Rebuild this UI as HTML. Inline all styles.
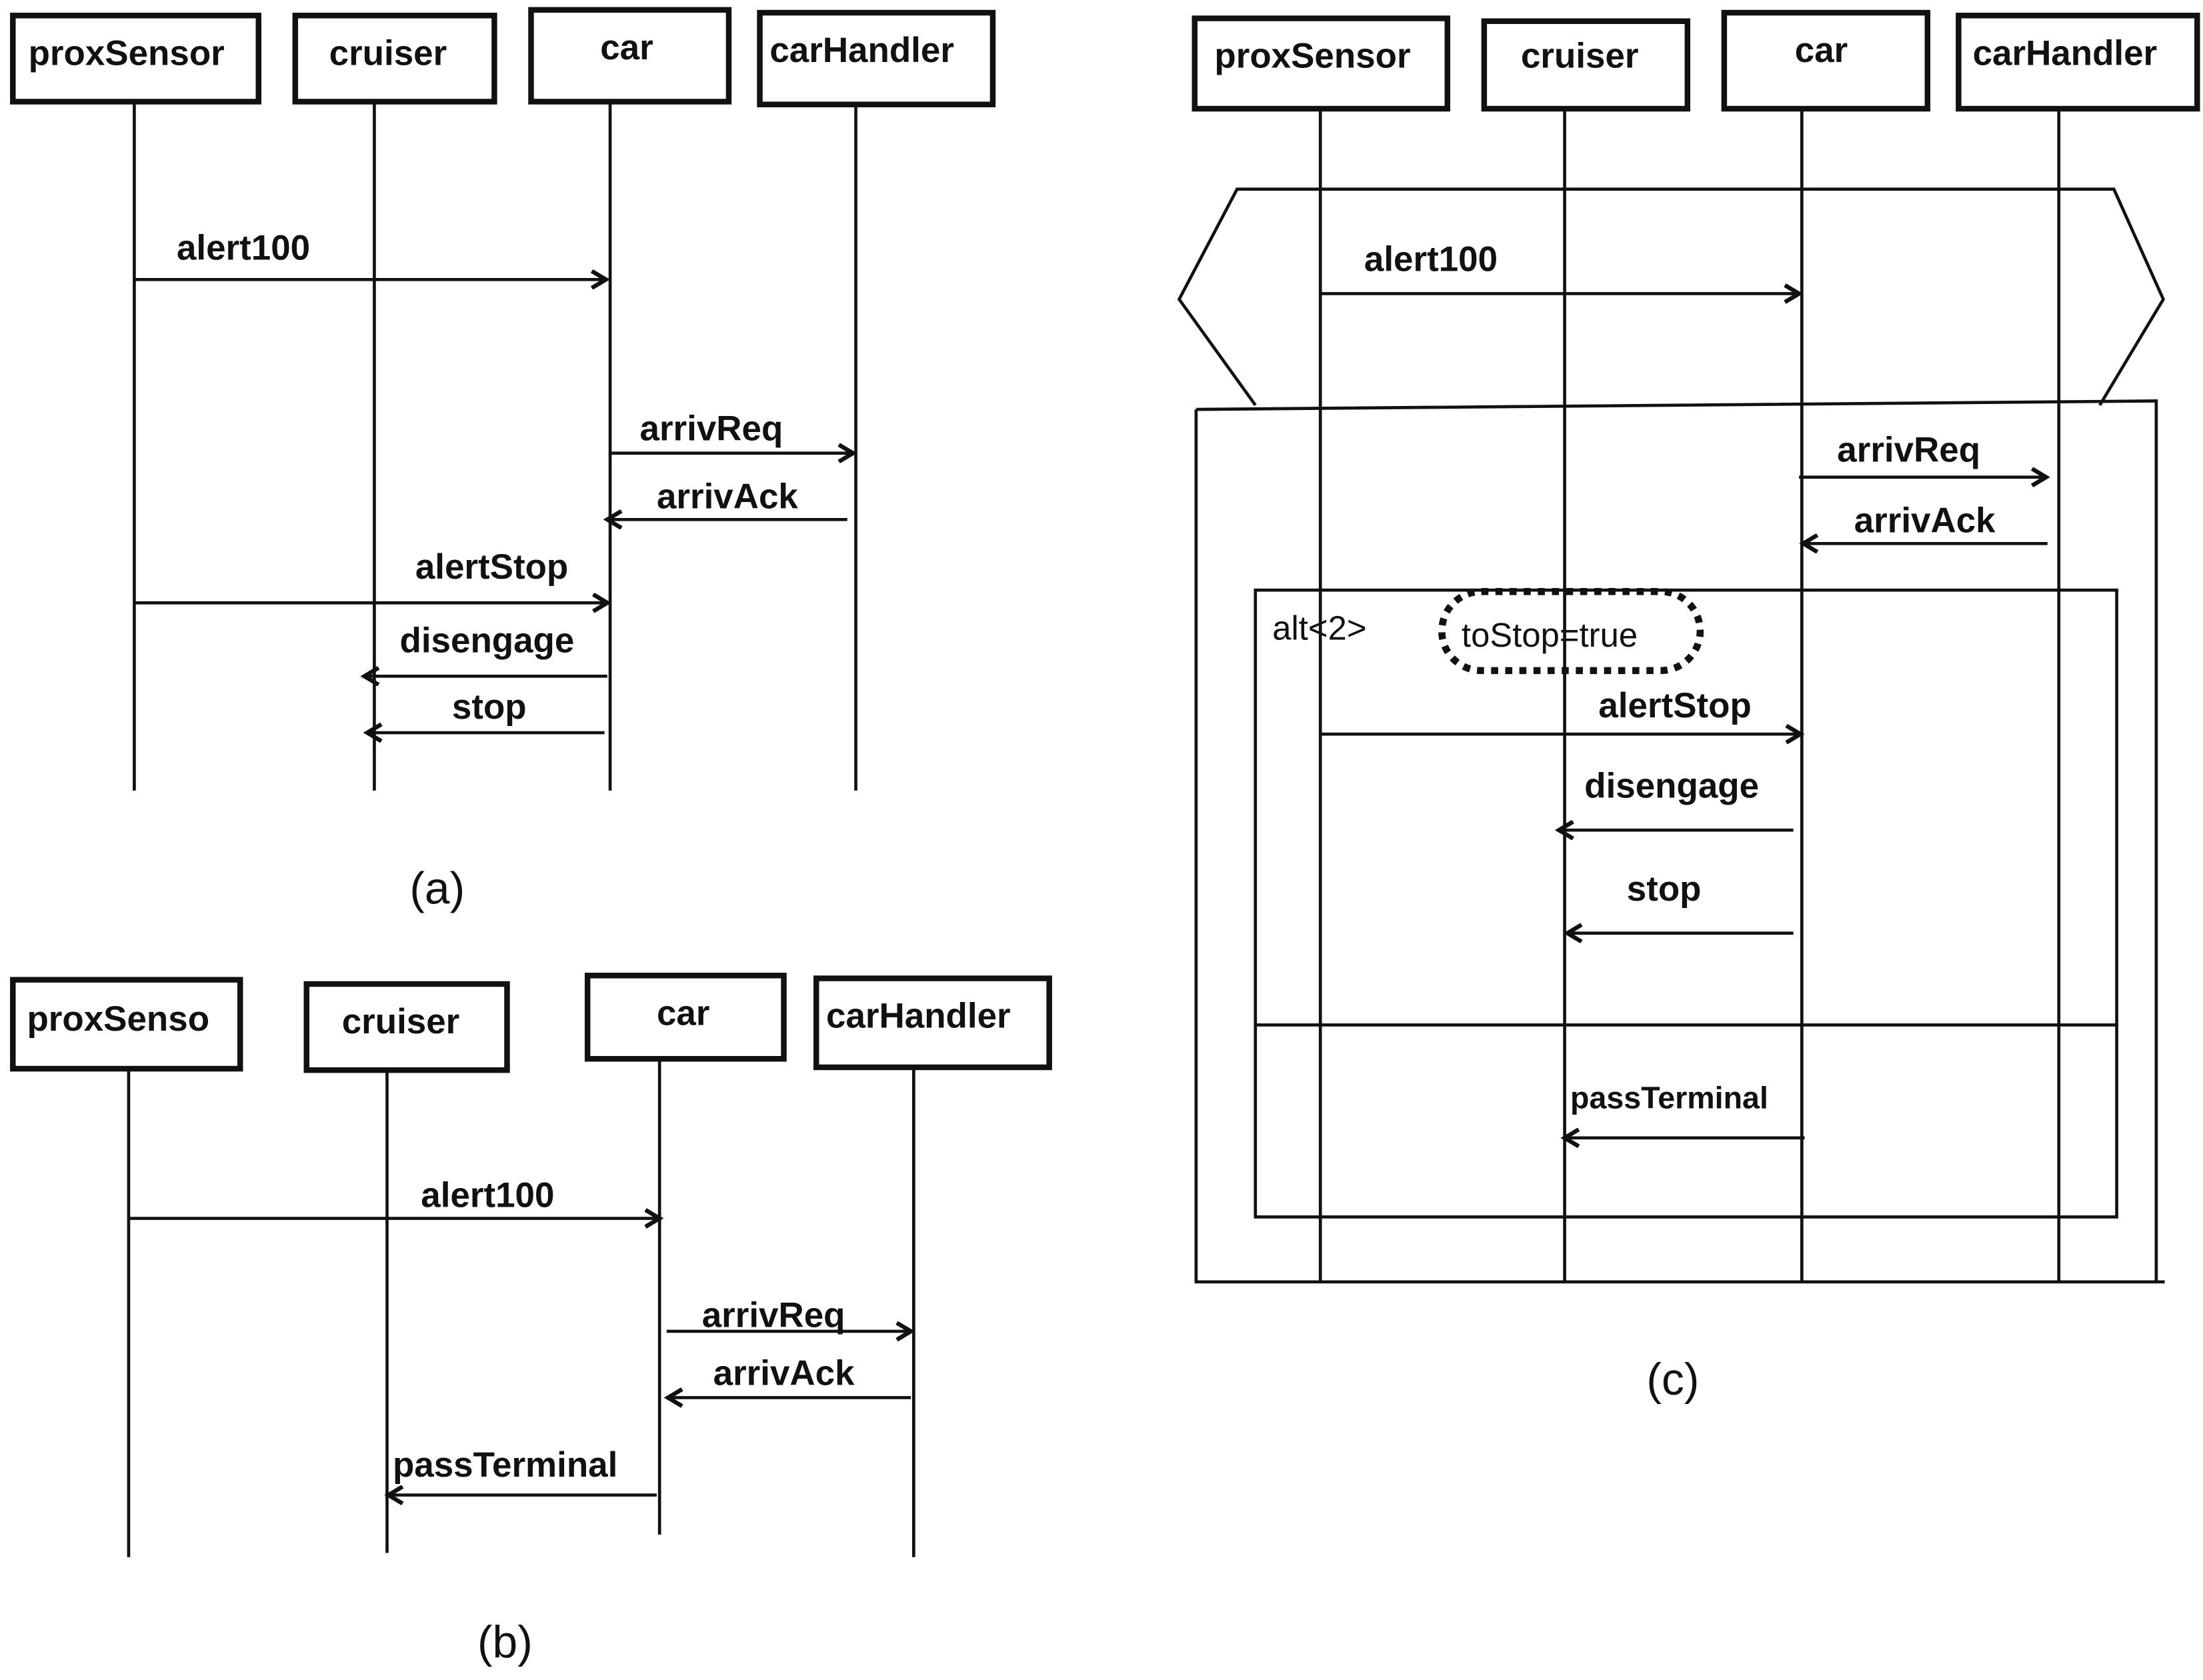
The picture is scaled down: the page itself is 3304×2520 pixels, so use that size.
<!DOCTYPE html>
<html><head><meta charset="utf-8"><style>
html,body{margin:0;padding:0;background:#fff;}
svg{display:block;}
text{font-family:"Liberation Sans",sans-serif;font-weight:bold;font-size:25px;fill:#111;}
.n{font-weight:normal;}
</style></head><body>
<svg width="3304" height="2520" viewBox="0 0 1560 1190" xmlns="http://www.w3.org/2000/svg">
<defs>
<marker id="a" markerWidth="14" markerHeight="14" refX="11" refY="7" orient="auto" markerUnits="userSpaceOnUse">
<path d="M1,1 L11,7 L1,13" fill="none" stroke="#111" stroke-width="3" stroke-linecap="butt"/>
</marker>
</defs>
<g fill="none" stroke="#111">
<g stroke-width="4">
<rect x="9" y="11" width="174" height="61"/><rect x="209" y="11" width="141" height="61"/>
<rect x="376" y="7" width="140" height="65"/><rect x="538" y="9" width="165" height="65"/>
</g>
<g stroke-width="2.2">
<line x1="95" y1="72" x2="95" y2="560"/><line x1="265" y1="72" x2="265" y2="560"/>
<line x1="432" y1="72" x2="432" y2="560"/><line x1="606" y1="74" x2="606" y2="560"/>
<line x1="95" y1="198" x2="429" y2="198" marker-end="url(#a)"/>
<line x1="432" y1="321" x2="604" y2="321" marker-end="url(#a)"/>
<line x1="600" y1="368" x2="430" y2="368" marker-end="url(#a)"/>
<line x1="95" y1="427" x2="430" y2="427" marker-end="url(#a)"/>
<line x1="430" y1="479" x2="258" y2="479" marker-end="url(#a)"/>
<line x1="428" y1="519" x2="260" y2="519" marker-end="url(#a)"/>
</g>
<g stroke-width="4">
<rect x="9" y="694" width="161" height="63"/><rect x="217" y="697" width="142" height="61"/>
<rect x="416" y="691" width="139" height="59"/><rect x="578" y="693" width="165" height="63"/>
</g>
<g stroke-width="2.2">
<line x1="91" y1="757" x2="91" y2="1103"/><line x1="274" y1="758" x2="274" y2="1100"/>
<line x1="467" y1="750" x2="467" y2="1087"/><line x1="647" y1="756" x2="647" y2="1103"/>
<line x1="91" y1="863" x2="467" y2="863" marker-end="url(#a)"/>
<line x1="472" y1="943" x2="645" y2="943" marker-end="url(#a)"/>
<line x1="645" y1="990" x2="473" y2="990" marker-end="url(#a)"/>
<line x1="465" y1="1059" x2="275" y2="1059" marker-end="url(#a)"/>
</g>
<g stroke-width="4">
<rect x="846" y="13" width="179" height="64"/><rect x="1051" y="15" width="144" height="62"/>
<rect x="1221" y="9" width="144" height="68"/><rect x="1387" y="11" width="169" height="66"/>
</g>
<g stroke-width="2.2">
<path d="M889,287 L835,212 L876,134 L1497,134 L1532,212 L1487,287"/>
<path d="M847,290 L1527,284 L1527,908 M847,290 L847,908 L1533,908"/>
<rect x="889" y="418" width="610" height="444"/>
<line x1="889" y1="726" x2="1499" y2="726"/>
<line x1="935" y1="77" x2="935" y2="908"/><line x1="1108" y1="77" x2="1108" y2="908"/>
<line x1="1276" y1="77" x2="1276" y2="908"/><line x1="1458" y1="77" x2="1458" y2="908"/>
<line x1="935" y1="208" x2="1274" y2="208" marker-end="url(#a)"/>
<line x1="1274" y1="338" x2="1449" y2="338" marker-end="url(#a)"/>
<line x1="1450" y1="385" x2="1277" y2="385" marker-end="url(#a)"/>
<line x1="935" y1="520" x2="1275" y2="520" marker-end="url(#a)"/>
<line x1="1270" y1="588" x2="1104" y2="588" marker-end="url(#a)"/>
<line x1="1270" y1="661" x2="1110" y2="661" marker-end="url(#a)"/>
<line x1="1278" y1="806" x2="1108" y2="806" marker-end="url(#a)"/>
<rect x="1021" y="419" width="183" height="56" rx="28" stroke-width="5" stroke-dasharray="5,5"/>
</g>
</g>
<text x="20" y="46">proxSensor</text><text x="233" y="46">cruiser</text>
<text x="425" y="42">car</text><text x="545" y="44">carHandler</text>
<text x="125" y="184">alert100</text><text x="453" y="312">arrivReq</text>
<text x="465" y="360">arrivAck</text><text x="294" y="410">alertStop</text>
<text x="283" y="462">disengage</text><text x="320" y="509">stop</text>
<text class="n" x="290" y="640" style="font-size:32px">(a)</text>
<text x="19" y="730">proxSenso</text><text x="242" y="732">cruiser</text>
<text x="465" y="726">car</text><text x="585" y="728">carHandler</text>
<text x="298" y="855">alert100</text><text x="497" y="940">arrivReq</text>
<text x="505" y="981">arrivAck</text><text x="278" y="1046">passTerminal</text>
<text class="n" x="338" y="1174" style="font-size:32px">(b)</text>
<text x="860" y="48">proxSensor</text><text x="1077" y="48">cruiser</text>
<text x="1271" y="44">car</text><text x="1397" y="46">carHandler</text>
<text x="966" y="192">alert100</text><text x="1301" y="327">arrivReq</text>
<text x="1313" y="377">arrivAck</text>
<text class="n" x="901" y="453" style="font-size:24px">alt&lt;2&gt;</text>
<text class="n" x="1035" y="458" style="font-size:24px">toStop=true</text>
<text x="1132" y="508">alertStop</text><text x="1122" y="565">disengage</text>
<text x="1152" y="638">stop</text>
<text x="1112" y="785" style="font-size:22px">passTerminal</text>
<text class="n" x="1166" y="988" style="font-size:32px">(c)</text>
</svg>
</body></html>
